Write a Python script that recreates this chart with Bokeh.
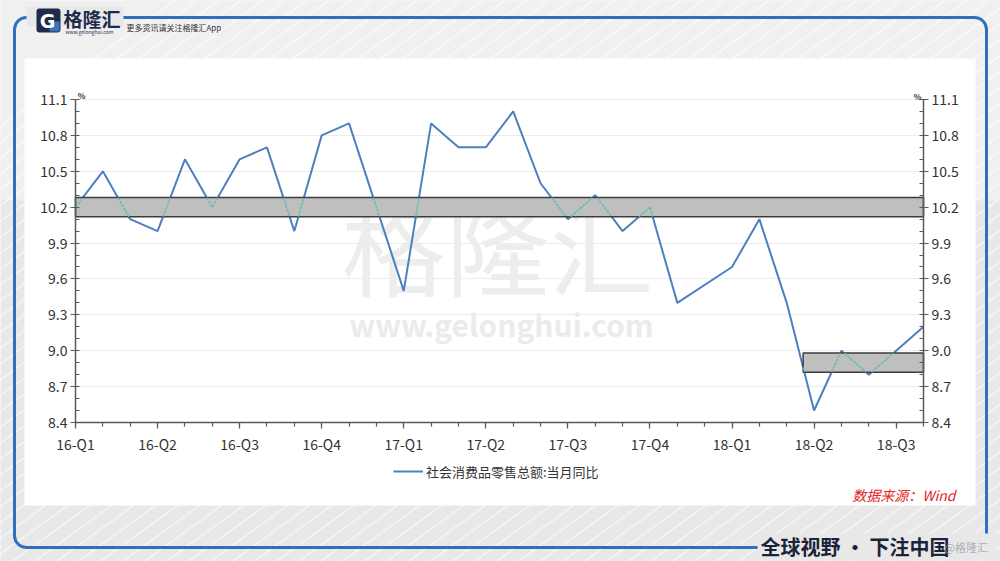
import numpy as np
from bokeh.plotting import figure
from bokeh.models import (FixedTicker, LinearAxis, BoxAnnotation, Label, Legend, Grid,
                          LegendItem, PolyAnnotation, Range1d, PrintfTickFormatter)
from bokeh.embed import file_html
from bokeh.resources import INLINE

# ---------------- data ----------------
months = ["2016-02", "2016-03", "2016-04", "2016-05", "2016-06", "2016-07", "2016-08",
          "2016-09", "2016-10", "2016-11", "2016-12", "2017-01", "2017-02", "2017-03",
          "2017-04", "2017-05", "2017-06", "2017-07", "2017-08", "2017-09", "2017-10",
          "2017-11", "2017-12", "2018-01", "2018-02", "2018-03", "2018-04", "2018-05",
          "2018-06", "2018-07", "2018-08", "2018-09"]
retail_yoy = [10.2, 10.5, 10.1, 10.0, 10.6, 10.2, 10.6, 10.7, 10.0, 10.8, 10.9, None,
              9.5, 10.9, 10.7, 10.7, 11.0, 10.4, 10.1, 10.3, 10.0, 10.2, 9.4, None,
              9.7, 10.1, 9.4, 8.5, 9.0, 8.8, 9.0, 9.2]
quarter_labels = ["16-Q1", "16-Q2", "16-Q3", "16-Q4", "17-Q1", "17-Q2", "17-Q3",
                  "17-Q4", "18-Q1", "18-Q2", "18-Q3"]
quarter_pos = [0, 3, 6, 9, 12, 15, 18, 21, 24, 27, 30]
y_ticks = [8.4, 8.7, 9.0, 9.3, 9.6, 9.9, 10.2, 10.5, 10.8, 11.1]
y_min, y_max = 8.4, 11.1
x_min, x_max = 0, 31
band_x0 = [0, 26.6]
band_x1 = [31, 31]
band_lo = [10.12, 8.82]
band_hi = [10.28, 8.98]
series_name = "社会消费品零售总额:当月同比"

# ---------------- derived ----------------
xs = [i for i, v in enumerate(retail_yoy) if v is not None]
ys = [v for v in retail_yoy if v is not None]


def clip_segment(x0, y0, x1, y1, xmin, xmax, ymin, ymax):
    t0, t1 = 0.0, 1.0
    dx, dy = x1 - x0, y1 - y0
    for pp, q in ((-dx, x0 - xmin), (dx, xmax - x0), (-dy, y0 - ymin), (dy, ymax - y0)):
        if pp == 0:
            if q < 0:
                return None
        else:
            t = q / pp
            if pp < 0:
                if t > t1:
                    return None
                t0 = max(t0, t)
            else:
                if t < t0:
                    return None
                t1 = min(t1, t)
    if t1 - t0 <= 1e-9:
        return None
    return ([x0 + t0 * dx, x0 + t1 * dx], [y0 + t0 * dy, y0 + t1 * dy])


inside_xs, inside_ys = [], []
for k in range(len(xs) - 1):
    for b in range(len(band_lo)):
        seg = clip_segment(xs[k], ys[k], xs[k + 1], ys[k + 1],
                           band_x0[b], band_x1[b], band_lo[b], band_hi[b])
        if seg:
            inside_xs.append(seg[0])
            inside_ys.append(seg[1])

# ---------------- layout (pixels) ----------------
FONT = "Noto Sans CJK SC"
W, H = 1000, 561
BG = "#e8e8e8"
FRAME_BLUE = "#2f6fc0"
PX_L, PX_R, PX_T, PX_B = 75, 923, 99, 422   # where the data area sits on the page

kx = (x_max - x_min) / (PX_R - PX_L)
ky = (y_max - y_min) / (PX_B - PX_T)
x_range = Range1d(x_min - PX_L * kx, x_max + (W - PX_R) * kx)
y_range = Range1d(y_min - (H - PX_B) * ky, y_max + PX_T * ky)

p = figure(width=W, height=H, x_range=x_range, y_range=y_range,
           output_backend="svg", toolbar_location=None, x_axis_location=None,
           y_axis_location=None,
           min_border_left=0, min_border_right=0, min_border_top=0, min_border_bottom=0,
           border_fill_color=BG, background_fill_color=BG, outline_line_color=None)


def sx(X):
    return X


def sy(Y):
    return H - Y


def box(l, r, t, b, **kw):
    kw.setdefault("line_alpha", 0)
    kw.setdefault("fill_alpha", 1)
    return BoxAnnotation(left=sx(l), right=sx(r), top=sy(t), bottom=sy(b),
                         left_units="screen", right_units="screen",
                         top_units="screen", bottom_units="screen", **kw)


def label(X, Y, text, size, color="#333333", align="left", style="normal", **kw):
    return Label(x=sx(X), y=sy(Y), text=text, x_units="screen", y_units="screen",
                 text_align=align, text_baseline="middle", text_color=color,
                 text_font=kw.pop("font", FONT), text_font_style=style,
                 text_font_size=size, **kw)


# ---------------- background decoration ----------------
p.add_layout(box(0, 1000, 0, 200, fill_color="white", fill_alpha=0.35, level="image"))
for k in range(-30, 70):
    xa0 = k * 22
    slope = 0.72
    xb0 = xa0 + 600 / slope
    p.add_layout(PolyAnnotation(xs=[sx(xa0), sx(xa0 + 2.5), sx(xb0 + 2.5), sx(xb0)],
                                ys=[sy(600), sy(600), sy(0), sy(0)],
                                xs_units="screen", ys_units="screen",
                                fill_color="white", fill_alpha=0.6, line_alpha=0,
                                level="image"))

p.add_layout(box(24, 975, 58, 505, fill_color="white", level="image"))
p.add_layout(box(14, 986, 17, 547, fill_alpha=0, line_color=FRAME_BLUE, line_alpha=1,
                 line_width=3, border_radius=12, level="image"))
# gaps in the frame
p.add_layout(box(26, 123, 6, 26, fill_color=BG, level="image"))
p.add_layout(box(757, 995, 533, 560, fill_color=BG, level="image"))

# logo
p.add_layout(box(36, 60, 8, 32, fill_color="#1e2b4a", border_radius=3, level="image"))
p.add_layout(box(49, 59, 21, 31, fill_color="#3a76c0", level="image"))
p.add_layout(label(47, 20, "G", "19px", color="white", align="center", style="bold",
                   font="DejaVu Sans", level="image"))
p.add_layout(label(63, 18, "格隆汇", "19px", color="#1e2b4a", style="bold", level="image"))
p.add_layout(label(65, 31, "www.gelonghui.com", "5px", color="#1e2b4a", level="image"))
p.add_layout(label(126, 27, "更多资讯请关注格隆汇App", "8px", color="#333333", level="image"))

# watermark
p.add_layout(label(497, 243, "格隆汇", "104px", color="#ededed", align="center",
                   level="underlay"))
p.add_layout(label(501, 323, "www.gelonghui.com", "30px", color="#ebebeb", align="center",
                   style="bold", level="underlay"))

# source + slogan
p.add_layout(label(955, 494, "数据来源：Wind", "14px", color="#e3242b", align="right",
                   style="italic"))
p.add_layout(label(760, 546, "全球视野 • 下注中国", "20px", color="#1b2338", style="bold"))
p.add_layout(label(944, 546, "@格隆汇", "11px", color="#9aa0a8", text_alpha=0.8))

# % labels
for X, Y in ((81, 95), (917, 96)):
    p.add_layout(label(X, Y, "%", "8px", align="center", style="bold"))

# ---------------- data glyphs ----------------
line_r = p.line(xs, ys, line_color="#4f7fbf", line_width=2)
p.quad(left=band_x0, right=band_x1, bottom=band_lo, top=band_hi,
       fill_color="#bfbfbf", line_color="#3c3c3c", line_width=1.5)
p.multi_line(inside_xs, inside_ys, line_color="#63bdb0", line_width=1.5, line_dash="3 1")

# ---------------- axes ----------------
y_ticker = FixedTicker(ticks=y_ticks,
                       minor_ticks=[round(v, 1) for v in np.arange(8.4, 11.15, 0.1)])
x_ticker = FixedTicker(ticks=quarter_pos, minor_ticks=list(range(len(months))))

yl = LinearAxis(fixed_location=x_min, bounds=(y_min, y_max))
yr = LinearAxis(fixed_location=x_max, bounds=(y_min, y_max))
xa = LinearAxis(fixed_location=y_min, bounds=(x_min, x_max))
p.add_layout(yl, "left")
p.add_layout(yr, "right")
p.add_layout(xa, "below")

for ax in (yl, yr):
    ax.ticker = y_ticker
    ax.formatter = PrintfTickFormatter(format="%.1f")
    ax.major_tick_out = 5
    ax.major_tick_in = 0
    ax.minor_tick_out = 0
    ax.minor_tick_in = 4
    ax.major_label_standoff = 3
for ax in (xa, yl, yr):
    ax.axis_line_color = "#5a5a5a"
    ax.axis_line_width = 1.5
    ax.major_tick_line_color = "#5a5a5a"
    ax.minor_tick_line_color = "#5a5a5a"
    ax.major_tick_line_width = 1.2
    ax.minor_tick_line_width = 1.2
    ax.major_label_text_font = FONT
    ax.major_label_text_font_size = "14px"
    ax.major_label_text_color = "#333333"

xa.ticker = x_ticker
xa.major_label_overrides = {pos: lab for pos, lab in zip(quarter_pos, quarter_labels)}
xa.major_tick_out = 6
xa.major_tick_in = 0
xa.minor_tick_out = 4
xa.minor_tick_in = 0
xa.major_label_standoff = 5

p.xgrid.visible = False
p.ygrid.visible = False
yg = Grid(dimension=1, ticker=y_ticker, bounds=(y_min, y_max), cross_bounds=(x_min, x_max),
          grid_line_color="#ececec")
p.add_layout(yg)

legend = Legend(items=[LegendItem(label=series_name, renderers=[line_r])],
                location=(sx(393), sy(481)), orientation="horizontal",
                border_line_alpha=0, background_fill_alpha=0, padding=0, margin=0,
                glyph_width=30, label_standoff=3,
                label_text_font=FONT, label_text_font_size="13px",
                label_text_color="#333333")
p.add_layout(legend, "center")

open("out.html", "w").write(file_html(p, INLINE))
